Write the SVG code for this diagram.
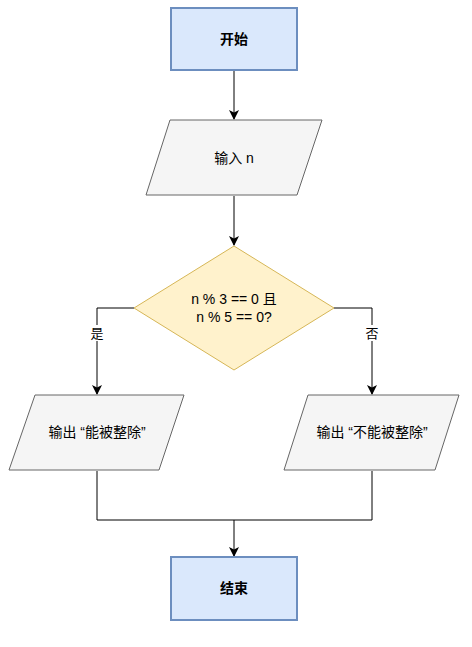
<svg xmlns="http://www.w3.org/2000/svg" width="472" height="647" viewBox="0 0 472 647">
<style>
.term{fill:#dae8fc;stroke:#6c8ebf;stroke-width:2}
.io{fill:#f5f5f5;stroke:#666666;stroke-width:1}
.dec{fill:#fff2cc;stroke:#d6b656;stroke-width:1}
.t{font-family:"Liberation Sans","Noto Sans CJK SC",sans-serif;font-size:14px;fill:#000;text-anchor:middle;dominant-baseline:central}
.s{font-size:13px}
.b{font-weight:bold}
.e{fill:none;stroke:#000;stroke-width:1}
.lbl{fill:#fff}
</style>
<defs>
<marker id="arr" viewBox="0 0 10 10" refX="9" refY="5" markerWidth="10" markerHeight="10" markerUnits="userSpaceOnUse" orient="auto">
<path d="M0,0 L10,5 L0,10 L2.5,5 Z" fill="#000"/>
</marker>
</defs>
<g id="edges">
<path class="e" d="M234,71 V119" marker-end="url(#arr)"/>
<path class="e" d="M234,196 V245" marker-end="url(#arr)"/>
<path class="e" d="M134,308 H97 V394" marker-end="url(#arr)"/>
<path class="e" d="M334,308 H372 V394" marker-end="url(#arr)"/>
<path class="e" d="M97,471 V520 H372 V471"/>
<path class="e" d="M234,520 V556" marker-end="url(#arr)"/>
<rect class="lbl" x="89" y="325" width="16" height="16"/>
<text class="t s" x="97" y="333">是</text>
<rect class="lbl" x="364" y="325" width="16" height="16"/>
<text class="t s" x="372" y="333">否</text>
</g>
<g id="start">
<rect class="term" x="171" y="8" width="126" height="62"/>
<text class="t b" x="234" y="39">开始</text>
</g>
<g id="input">
<polygon class="io" points="170,120 322,120 297,195 146,195"/>
<text class="t" x="234" y="158">输入 n</text>
</g>
<g id="decision">
<polygon class="dec" points="234,246 334,308 234,370 134,308"/>
<text class="t" x="234" y="299">n % 3 == 0 且</text>
<text class="t" x="234" y="317">n % 5 == 0?</text>
</g>
<g id="out-yes">
<polygon class="io" points="35,395 184,395 159,470 9,470"/>
<text class="t" x="97" y="432">输出 “能被整除”</text>
</g>
<g id="out-no">
<polygon class="io" points="308,395 459,395 435,470 284,470"/>
<text class="t" x="372" y="432">输出 “不能被整除”</text>
</g>
<g id="end">
<rect class="term" x="171" y="557" width="126" height="63"/>
<text class="t b" x="234" y="588">结束</text>
</g>
</svg>
